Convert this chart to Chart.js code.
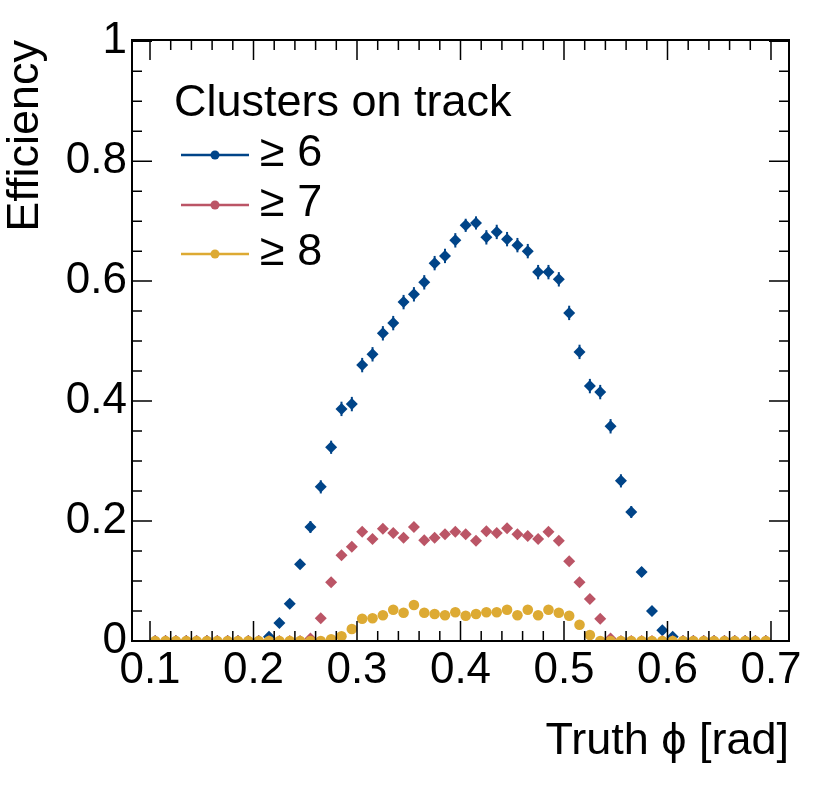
<!DOCTYPE html>
<html>
<head>
<meta charset="utf-8">
<script src="https://cdn.jsdelivr.net/npm/chart.js@4.4.0/dist/chart.umd.min.js"></script>
<style>
  body { margin: 0; background: #fff; }
</style>
</head>
<body>
<canvas id="effChart" width="830" height="801"></canvas>
<script>
// bin centres of truth phi [rad]
const phiCenters = [
  0.105, 0.115, 0.125, 0.135, 0.145, 0.155, 0.165, 0.175, 0.185, 0.195,
  0.205, 0.215, 0.225, 0.235, 0.245, 0.255, 0.265, 0.275, 0.285, 0.295,
  0.305, 0.315, 0.325, 0.335, 0.345, 0.355, 0.365, 0.375, 0.385, 0.395,
  0.405, 0.415, 0.425, 0.435, 0.445, 0.455, 0.465, 0.475, 0.485, 0.495,
  0.505, 0.515, 0.525, 0.535, 0.545, 0.555, 0.565, 0.575, 0.585, 0.595,
  0.605, 0.615, 0.625, 0.635, 0.645, 0.655, 0.665, 0.675, 0.685, 0.695
];

// >= 6 clusters
const effGe6 = [
  0, 0, 0, 0, 0, 0, 0, 0, 0, 0,
  0, 0.007, 0.030, 0.062, 0.128, 0.190, 0.257, 0.323, 0.387, 0.395,
  0.460, 0.478, 0.513, 0.530, 0.565, 0.578, 0.598, 0.630, 0.642, 0.668,
  0.693, 0.697, 0.673, 0.682, 0.670, 0.660, 0.650, 0.615, 0.615, 0.603,
  0.547, 0.482, 0.425, 0.415, 0.358, 0.267, 0.215, 0.115, 0.050, 0.018,
  0.007, 0, 0, 0, 0, 0, 0, 0, 0, 0
];
const errGe6 = [
  0, 0, 0, 0, 0, 0, 0, 0, 0, 0,
  0, 0.002, 0.004, 0.006, 0.008, 0.010, 0.011, 0.011, 0.012, 0.012,
  0.012, 0.012, 0.012, 0.012, 0.012, 0.012, 0.012, 0.012, 0.012, 0.012,
  0.011, 0.011, 0.012, 0.012, 0.012, 0.012, 0.012, 0.012, 0.012, 0.012,
  0.012, 0.012, 0.012, 0.012, 0.012, 0.011, 0.010, 0.008, 0.005, 0.003,
  0.002, 0, 0, 0, 0, 0, 0, 0, 0, 0
];

// >= 7 clusters
const effGe7 = [
  0, 0, 0, 0, 0, 0, 0, 0, 0, 0,
  0, 0, 0, 0, 0, 0.004, 0.038, 0.098, 0.143, 0.157,
  0.182, 0.170, 0.187, 0.180, 0.172, 0.190, 0.168, 0.172, 0.178, 0.182,
  0.178, 0.167, 0.183, 0.180, 0.188, 0.178, 0.175, 0.170, 0.182, 0.167,
  0.133, 0.098, 0.070, 0.037, 0.004, 0, 0, 0, 0, 0,
  0, 0, 0, 0, 0, 0, 0, 0, 0, 0
];

// >= 8 clusters
const effGe8 = [
  0, 0, 0, 0, 0, 0, 0, 0, 0, 0,
  0, 0, 0, 0, 0, 0, 0, 0.003, 0.008, 0.020,
  0.037, 0.038, 0.043, 0.052, 0.047, 0.060, 0.047, 0.045, 0.043, 0.048,
  0.042, 0.045, 0.048, 0.048, 0.052, 0.043, 0.052, 0.043, 0.052, 0.047,
  0.042, 0.027, 0.010, 0, 0, 0, 0, 0, 0, 0,
  0, 0, 0, 0, 0, 0, 0, 0, 0, 0
];

const xTickValues = [0.1, 0.2, 0.3, 0.4, 0.5, 0.6, 0.7];
const xTickLabels = ['0.1', '0.2', '0.3', '0.4', '0.5', '0.6', '0.7'];
const yTickValues = [0, 0.2, 0.4, 0.6, 0.8, 1];
const yTickLabels = ['0', '0.2', '0.4', '0.6', '0.8', '1'];
const seriesLabels = ['\u2265 6', '\u2265 7', '\u2265 8'];
const seriesColors = ['#004488', '#BB5566', '#DDAA33'];
const legendTitle = 'Clusters on track';
const xTitle = 'Truth \u03D5 [rad]';
const yTitle = 'Efficiency';

const FONT = '"Liberation Sans", Arial, Helvetica, sans-serif';

function toPoints(values) {
  return phiCenters.map((x, i) => ({ x: x, y: values[i] }));
}

// vertical error bars for the >= 6 series
const errorBars = {
  id: 'errorBars',
  beforeDatasetsDraw(chart) {
    const { ctx, scales: { x, y } } = chart;
    ctx.save();
    ctx.strokeStyle = seriesColors[0];
    ctx.lineWidth = 2;
    phiCenters.forEach((px, i) => {
      if (!errGe6[i]) return;
      const xp = x.getPixelForValue(px);
      ctx.beginPath();
      ctx.moveTo(xp, y.getPixelForValue(effGe6[i] - errGe6[i]));
      ctx.lineTo(xp, y.getPixelForValue(effGe6[i] + errGe6[i]));
      ctx.stroke();
    });
    ctx.restore();
  }
};

// ROOT style frame with inward ticks on all four sides
const frameTicks = {
  id: 'frameTicks',
  afterDatasetsDraw(chart) {
    const { ctx, chartArea: a, scales: { x, y } } = chart;
    ctx.save();
    ctx.strokeStyle = '#000';
    ctx.lineWidth = 1.5;
    ctx.beginPath();
    for (let k = 4; k <= 36; k++) {
      const xp = x.getPixelForValue(k * 0.02);
      if (xp < a.left + 1 || xp > a.right - 1) continue;
      const len = k % 5 === 0 ? 20 : 10;
      ctx.moveTo(xp, a.bottom); ctx.lineTo(xp, a.bottom - len);
      ctx.moveTo(xp, a.top); ctx.lineTo(xp, a.top + len);
    }
    for (let k = 0; k <= 20; k++) {
      const yp = y.getPixelForValue(k * 0.05);
      const len = k % 4 === 0 ? 20 : 10;
      ctx.moveTo(a.left, yp); ctx.lineTo(a.left + len, yp);
      ctx.moveTo(a.right, yp); ctx.lineTo(a.right - len, yp);
    }
    ctx.stroke();
    ctx.lineWidth = 2;
    ctx.strokeRect(a.left, a.top, a.right - a.left, a.bottom - a.top);
    ctx.restore();
  }
};

// legend drawn inside the frame
const insideLegend = {
  id: 'insideLegend',
  afterDraw(chart) {
    const { ctx } = chart;
    ctx.save();
    ctx.fillStyle = '#000';
    ctx.font = '45px ' + FONT;
    ctx.textBaseline = 'alphabetic';
    ctx.textAlign = 'left';
    ctx.fillText(legendTitle, 174, 116);
    const rows = [155, 205, 254];
    seriesLabels.forEach((lab, i) => {
      const yy = rows[i];
      ctx.strokeStyle = seriesColors[i];
      ctx.lineWidth = 2.5;
      ctx.beginPath();
      ctx.moveTo(181, yy);
      ctx.lineTo(249, yy);
      ctx.stroke();
      ctx.fillStyle = seriesColors[i];
      ctx.beginPath();
      ctx.arc(215, yy, 4.5, 0, Math.PI * 2);
      ctx.fill();
      ctx.fillStyle = '#000';
      ctx.fillText(lab, 260, yy + 11);
    });
    ctx.restore();
  }
};

const tickFont = { family: FONT, size: 44 };
const titleFont = { family: FONT, size: 45 };

new Chart(document.getElementById('effChart'), {
  type: 'scatter',
  data: {
    datasets: [
      {
        label: seriesLabels[0],
        data: toPoints(effGe6),
        backgroundColor: seriesColors[0],
        borderColor: seriesColors[0],
        pointStyle: 'rectRot',
        pointRadius: 6,
        pointBorderWidth: 0,
        order: 3
      },
      {
        label: seriesLabels[1],
        data: toPoints(effGe7),
        backgroundColor: seriesColors[1],
        borderColor: seriesColors[1],
        pointStyle: 'rectRot',
        pointRadius: 6,
        pointBorderWidth: 0,
        order: 2
      },
      {
        label: seriesLabels[2],
        data: toPoints(effGe8),
        backgroundColor: seriesColors[2],
        borderColor: seriesColors[2],
        pointStyle: 'circle',
        pointRadius: 5.3,
        pointBorderWidth: 0,
        order: 1
      }
    ]
  },
  options: {
    responsive: false,
    animation: false,
    layout: { padding: { left: 0, right: 41, top: 40, bottom: 0 } },
    plugins: {
      legend: { display: false },
      tooltip: { enabled: false }
    },
    scales: {
      x: {
        type: 'linear',
        min: 0.0826,
        max: 0.7174,
        afterFit(s) { s.height = 160; },
        afterBuildTicks(s) { s.ticks = xTickValues.map(v => ({ value: v })); },
        grid: { display: false, drawTicks: false },
        border: { display: false },
        ticks: {
          font: tickFont,
          color: '#000',
          padding: 3,
          maxRotation: 0,
          autoSkip: false,
          callback: (v, i) => xTickLabels[i]
        },
        title: {
          display: true,
          text: xTitle,
          align: 'end',
          color: '#000',
          font: titleFont,
          padding: { top: 0, bottom: 32 }
        }
      },
      y: {
        type: 'linear',
        min: 0,
        max: 1.002,
        afterFit(s) { s.width = 132; },
        afterBuildTicks(s) { s.ticks = yTickValues.map(v => ({ value: v })); },
        grid: { display: false, drawTicks: false },
        border: { display: false },
        ticks: {
          font: tickFont,
          color: '#000',
          padding: 5,
          autoSkip: false,
          callback: (v, i) => yTickLabels[i]
        },
        title: {
          display: true,
          text: yTitle,
          align: 'end',
          color: '#000',
          font: titleFont,
          padding: { top: -1, bottom: 0 }
        }
      }
    }
  },
  plugins: [errorBars, frameTicks, insideLegend]
});
</script>
</body>
</html>
